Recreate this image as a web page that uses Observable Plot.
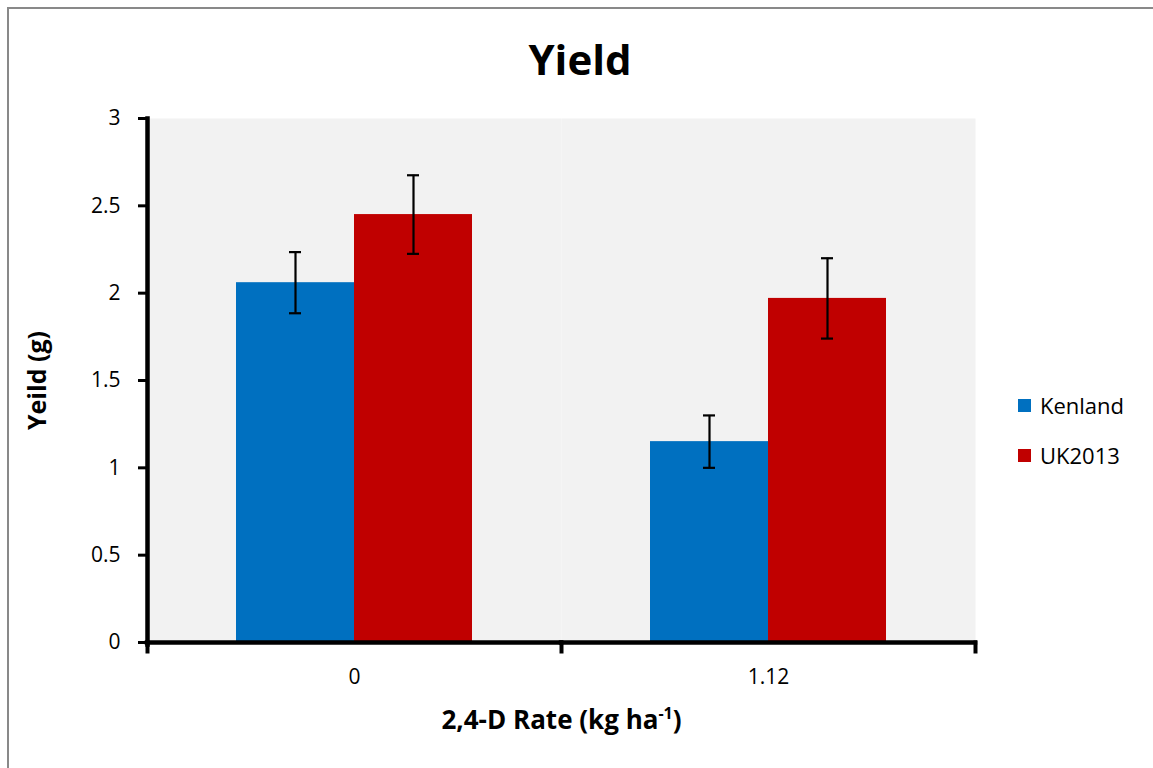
<!DOCTYPE html>
<html>
<head>
<meta charset="utf-8">
<script src="https://cdn.jsdelivr.net/npm/d3@7"></script>
<script src="https://cdn.jsdelivr.net/npm/@observablehq/plot@0.6"></script>
<style>
  html, body { margin: 0; padding: 0; background: #fff; }
  body { font-family: "Open Sans", sans-serif; }
  #wrap { position: relative; width: 1153px; height: 768px; overflow: hidden; }
  #border { position: absolute; left: 7px; top: 7px; width: 1300px; height: 900px; border-left: 2px solid #898989; border-top: 2px solid #898989; }
  #title { position: absolute; left: 0; width: 1160px; top: 38px; text-align: center; font: bold 42px "Open Sans", sans-serif; color: #000; line-height: 1; }
  #chart { position: absolute; left: 0; top: 0; }
  #legend { position: absolute; left: 1018px; top: 390px; }
  #legend .leg-swatches { font: 22px "Open Sans", sans-serif; color: #000; }
  #legend .leg-swatch { margin-bottom: 19px; }
  #legend .leg-swatch svg { margin-right: 9px; }
</style>
</head>
<body>
<div id="wrap">
  <div id="border"></div>
  <div id="chart"></div>
  <div id="title">Yield</div>
  <div id="legend"></div>
</div>
<script>
// ---- data ----
const rates = ["0", "1.12"];
const series = ["Kenland", "UK2013"];
const kenlandValues = [2.06, 1.15];
const uk2013Values = [2.45, 1.97];
const kenlandErrors = [0.175, 0.15];
const uk2013Errors = [0.225, 0.23];
const yTicks = [0, 0.5, 1, 1.5, 2, 2.5, 3];
const colors = ["#0070c0", "#c00000"];

const rows = [];
rates.forEach((r, i) => {
  rows.push({rate: r, series: series[0], value: kenlandValues[i], err: kenlandErrors[i]});
  rows.push({rate: r, series: series[1], value: uk2013Values[i], err: uk2013Errors[i]});
});

const W = 1153, H = 768;
const mL = 147, mR = 178, mT = 118, mB = 126;

const chart = Plot.plot({
  width: W,
  height: H,
  marginLeft: mL,
  marginRight: mR,
  marginTop: mT,
  marginBottom: mB,
  style: {fontFamily: "'Open Sans', sans-serif", background: "transparent", color: "#000"},
  fx: {domain: rates, padding: 0, axis: null, label: null},
  x: {domain: series, paddingInner: 0, paddingOuter: 0.754, axis: null, label: null},
  y: {domain: [0, 3], axis: null, label: null},
  color: {domain: series, range: colors},
  marks: [
    Plot.frame({fill: "#f2f2f2", stroke: "none"}),
    Plot.barY(rows, {fx: "rate", x: "series", y: "value", fill: "series", inset: 0}),
    Plot.ruleX(rows, {fx: "rate", x: "series", y1: d => d.value - d.err, y2: d => d.value + d.err, stroke: "#000", strokeWidth: 2.2}),
    Plot.tickY(rows, {fx: "rate", x: "series", y: d => d.value + d.err, stroke: "#000", strokeWidth: 2.2, insetLeft: 53, insetRight: 53}),
    Plot.tickY(rows, {fx: "rate", x: "series", y: d => d.value - d.err, stroke: "#000", strokeWidth: 2.2, insetLeft: 53, insetRight: 53}),
    // axis lines
    Plot.ruleY([0], {stroke: "#000", strokeWidth: 4.5, insetLeft: -2.25, insetRight: -2.25}),
    Plot.frame({anchor: "left", stroke: "#000", strokeWidth: 4.5, facetAnchor: "left", insetBottom: -2}),
    // category boundary ticks on x axis
    Plot.frame({anchor: "left", stroke: "#000", strokeWidth: 4, insetTop: H - mT - mB, insetBottom: -9}),
    Plot.frame({anchor: "right", stroke: "#000", strokeWidth: 4, insetTop: H - mT - mB, insetBottom: -9, facetAnchor: "right"}),
    Plot.axisY({ticks: yTicks, tickFormat: d => String(d), tickSize: 9, tickPadding: 18, strokeWidth: 3, fontSize: 21, label: null, facetAnchor: "left"}),
    Plot.axisFx({anchor: "bottom", tickSize: 0, tickPadding: 27, fontSize: 21, label: null}),
    Plot.text(["Yeild (g)"], {frameAnchor: "left", textAnchor: "middle", dx: -110, rotate: -90, fontWeight: "bold", fontSize: 25, facetAnchor: "left", fill: "#000"}),
    Plot.text(["2,4-D Rate (kg ha-1)"], {frameAnchor: "bottom-right", textAnchor: "middle", dy: 86, fontWeight: "bold", fontSize: 26, facetAnchor: "left", fill: "#000"})
  ]
});
document.getElementById("chart").appendChild(chart);

// superscript for the unit
chart.querySelectorAll("text").forEach(t => {
  if (t.textContent === "2,4-D Rate (kg ha-1)") {
    t.innerHTML = '2,4-D Rate (kg ha<tspan dy="-10" font-size="16">-1</tspan><tspan dy="10">)</tspan>';
  }
});

const leg = Plot.legend({
  color: {domain: series, range: colors},
  legend: "swatches",
  columns: 1,
  swatchSize: 13,
  className: "leg"
});
document.getElementById("legend").appendChild(leg);
</script>
</body>
</html>
